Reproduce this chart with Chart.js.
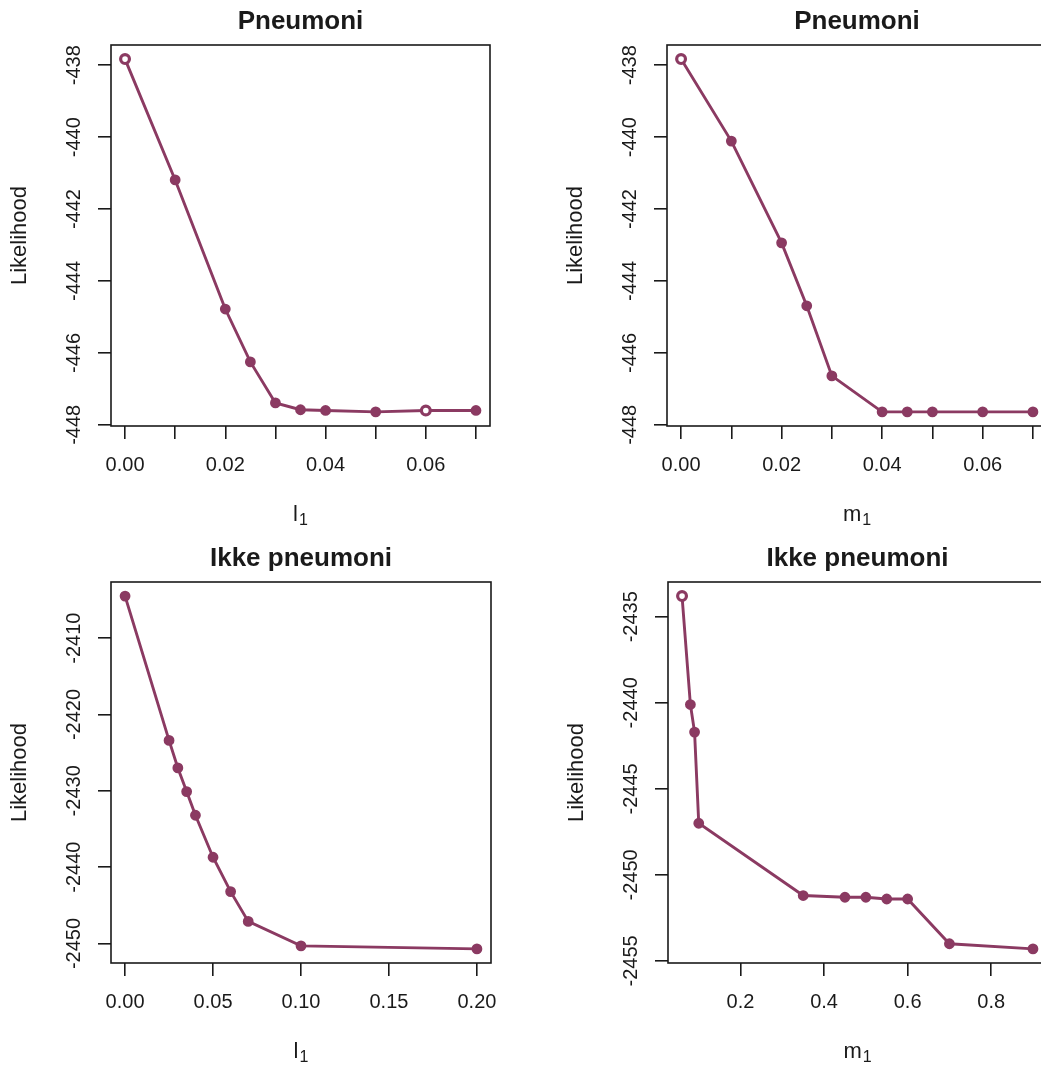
<!DOCTYPE html>
<html>
<head>
<meta charset="utf-8">
<title>Likelihood</title>
<script src="https://cdn.jsdelivr.net/npm/chart.js@4.4.1/dist/chart.umd.min.js"></script>
<style>
    body { margin: 0; background: #fff; width: 1041px; height: 1066px; overflow: hidden; position: relative; }
    .panel { position: absolute; width: 520px; height: 533px; }
</style>
</head>
<body>
<div class="panel" style="left:0px;top:0px"><canvas id="pneu-l1" width="520" height="533"></canvas></div>
<div class="panel" style="left:560px;top:0px"><canvas id="pneu-m1" width="520" height="533"></canvas></div>
<div class="panel" style="left:0px;top:533px"><canvas id="ikke-l1" width="520" height="533"></canvas></div>
<div class="panel" style="left:560px;top:533px"><canvas id="ikke-m1" width="520" height="533"></canvas></div>
<script>
// ========== Colors / fonts
let lineColor = '#8B3A62';
let inkColor = '#1a1a1a';
let fontFamily = "'Liberation Sans', Arial, Helvetica, sans-serif";

// ========== Pneumoni, l1
let pneuL1 = [0, 0.01, 0.02, 0.025, 0.03, 0.035, 0.04, 0.05, 0.06, 0.07];
let pneuL1Lik = [-437.83, -441.19, -444.78, -446.25, -447.39, -447.58, -447.60, -447.64, -447.60, -447.60];

// ========== Pneumoni, m1
let pneuM1 = [0, 0.01, 0.02, 0.025, 0.03, 0.04, 0.045, 0.05, 0.06, 0.07];
let pneuM1Lik = [-437.83, -440.11, -442.94, -444.69, -446.64, -447.64, -447.64, -447.64, -447.64, -447.64];

// ========== Ikke pneumoni, l1
let ikkeL1 = [0, 0.025, 0.03, 0.035, 0.04, 0.05, 0.06, 0.07, 0.10, 0.20];
let ikkeL1Lik = [-2404.5, -2423.4, -2427.0, -2430.1, -2433.2, -2438.7, -2443.2, -2447.1, -2450.3, -2450.7];

// ========== Ikke pneumoni, m1
let ikkeM1 = [0.06, 0.08, 0.09, 0.10, 0.35, 0.45, 0.50, 0.55, 0.60, 0.70, 0.90];
let ikkeM1Lik = [-2433.8, -2440.1, -2441.7, -2447.0, -2451.2, -2451.3, -2451.3, -2451.4, -2451.4, -2454.0, -2454.3];

// ========== Ticks
let smallXTicks = [0, 0.01, 0.02, 0.03, 0.04, 0.05, 0.06, 0.07];
let smallXLabels = ['0.00', '', '0.02', '', '0.04', '', '0.06', ''];
let ikkeL1Ticks = [0, 0.05, 0.10, 0.15, 0.20];
let ikkeL1Labels = ['0.00', '0.05', '0.10', '0.15', '0.20'];
let ikkeM1Ticks = [0.2, 0.4, 0.6, 0.8];
let ikkeM1Labels = ['0.2', '0.4', '0.6', '0.8'];
let pneuYTicks = [-438, -440, -442, -444, -446, -448];
let ikkeL1YTicks = [-2410, -2420, -2430, -2440, -2450];
let ikkeM1YTicks = [-2435, -2440, -2445, -2450, -2455];

// R style axis range: data range widened by 4% on each side
function rRange(vals) {
    let lo = Math.min(...vals), hi = Math.max(...vals);
    let d = (hi - lo) * 0.04;
    return { min: lo - d, max: hi + d };
}

// frame, main title, rotated y labels and axis titles
let rFrame = {
    id: 'rFrame',
    afterDraw(chart, args, opts) {
        let ctx = chart.ctx;
        let a = chart.chartArea;
        let yScale = chart.scales.y;
        let cx = (a.left + a.right) / 2;
        ctx.save();
        ctx.strokeStyle = inkColor;
        ctx.lineWidth = 1.6;
        ctx.strokeRect(a.left, a.top, a.right - a.left, a.bottom - a.top);

        ctx.fillStyle = inkColor;
        ctx.textAlign = 'center';
        ctx.textBaseline = 'middle';
        ctx.font = 'bold 26px ' + fontFamily;
        ctx.fillText(opts.title, cx, a.top - 23);

        ctx.font = '20px ' + fontFamily;
        yScale.ticks.forEach(t => {
            ctx.save();
            ctx.translate(a.left - 37, yScale.getPixelForValue(t.value));
            ctx.rotate(-Math.PI / 2);
            ctx.fillText(String(t.value), 0, 0);
            ctx.restore();
        });

        ctx.font = '22px ' + fontFamily;
        ctx.save();
        ctx.translate(a.left - 91, (a.top + a.bottom) / 2);
        ctx.rotate(-Math.PI / 2);
        ctx.fillText('Likelihood', 0, 0);
        ctx.restore();

        // x title with subscript 1
        ctx.textAlign = 'left';
        ctx.textBaseline = 'alphabetic';
        let mainW = ctx.measureText(opts.xTitle).width;
        ctx.font = '16px ' + fontFamily;
        let subW = ctx.measureText('1').width;
        let x0 = cx - (mainW + subW + 1) / 2;
        let base = a.bottom + 95;
        ctx.font = '22px ' + fontFamily;
        ctx.fillText(opts.xTitle, x0, base);
        ctx.font = '16px ' + fontFamily;
        ctx.fillText('1', x0 + mainW + 1, base + 4);
        ctx.restore();
    }
};

function makePanel(canvasId, xs, ys, cfg) {
    let xr = rRange(xs);
    let yr = rRange(ys);
    let pts = xs.map((x, i) => ({ x: x, y: ys[i] }));
    let fills = xs.map((x, i) => cfg.hollow.includes(i) ? '#ffffff' : lineColor);
    let rims = xs.map((x, i) => cfg.hollow.includes(i) ? 3.2 : 2);
    return new Chart(document.getElementById(canvasId), {
        type: 'line',
        data: {
            datasets: [{
                data: pts,
                borderColor: lineColor,
                borderWidth: 2.9,
                pointRadius: 4.4,
                pointBorderWidth: rims,
                pointBorderColor: lineColor,
                pointBackgroundColor: fills,
                tension: 0
            }]
        },
        options: {
            responsive: false,
            animation: false,
            events: [],
            layout: { autoPadding: false, padding: { top: cfg.top, right: cfg.right, left: 0, bottom: 0 } },
            plugins: {
                legend: { display: false },
                tooltip: { enabled: false },
                rFrame: { title: cfg.title, xTitle: cfg.xTitle }
            },
            scales: {
                x: {
                    type: 'linear',
                    min: xr.min,
                    max: xr.max,
                    border: { display: false },
                    grid: { drawOnChartArea: false, drawTicks: true, tickLength: 13, color: inkColor, lineWidth: 1.6 },
                    ticks: {
                        color: inkColor,
                        padding: 14,
                        maxRotation: 0,
                        autoSkip: false,
                        font: { family: fontFamily, size: 20 },
                        callback: (v, i) => cfg.xLabels[i]
                    },
                    afterBuildTicks: s => { s.ticks = cfg.xTicks.map(v => ({ value: v })); },
                    afterFit: s => { s.height = cfg.xHeight; }
                },
                y: {
                    type: 'linear',
                    min: yr.min,
                    max: yr.max,
                    border: { display: false },
                    grid: { drawOnChartArea: false, drawTicks: true, tickLength: 13, color: inkColor, lineWidth: 1.6 },
                    ticks: { display: false },
                    afterBuildTicks: s => { s.ticks = cfg.yTicks.map(v => ({ value: v })); },
                    afterFit: s => { s.width = cfg.left; }
                }
            }
        },
        plugins: [rFrame]
    });
}

// @ ========== Pneumoni
makePanel('pneu-l1', pneuL1, pneuL1Lik, {
    title: 'Pneumoni', xTitle: 'l', xTicks: smallXTicks, xLabels: smallXLabels, yTicks: pneuYTicks,
    hollow: [0, 8], left: 111, top: 45, right: 30, xHeight: 107
});
makePanel('pneu-m1', pneuM1, pneuM1Lik, {
    title: 'Pneumoni', xTitle: 'm', xTicks: smallXTicks, xLabels: smallXLabels, yTicks: pneuYTicks,
    hollow: [0], left: 107, top: 45, right: 33, xHeight: 107
});

// @ ========== Ikke pneumoni
makePanel('ikke-l1', ikkeL1, ikkeL1Lik, {
    title: 'Ikke pneumoni', xTitle: 'l', xTicks: ikkeL1Ticks, xLabels: ikkeL1Labels, yTicks: ikkeL1YTicks,
    hollow: [], left: 111, top: 49, right: 29, xHeight: 103
});
makePanel('ikke-m1', ikkeM1, ikkeM1Lik, {
    title: 'Ikke pneumoni', xTitle: 'm', xTicks: ikkeM1Ticks, xLabels: ikkeM1Labels, yTicks: ikkeM1YTicks,
    hollow: [0], left: 108, top: 49, right: 33, xHeight: 103
});
</script>
</body>
</html>
